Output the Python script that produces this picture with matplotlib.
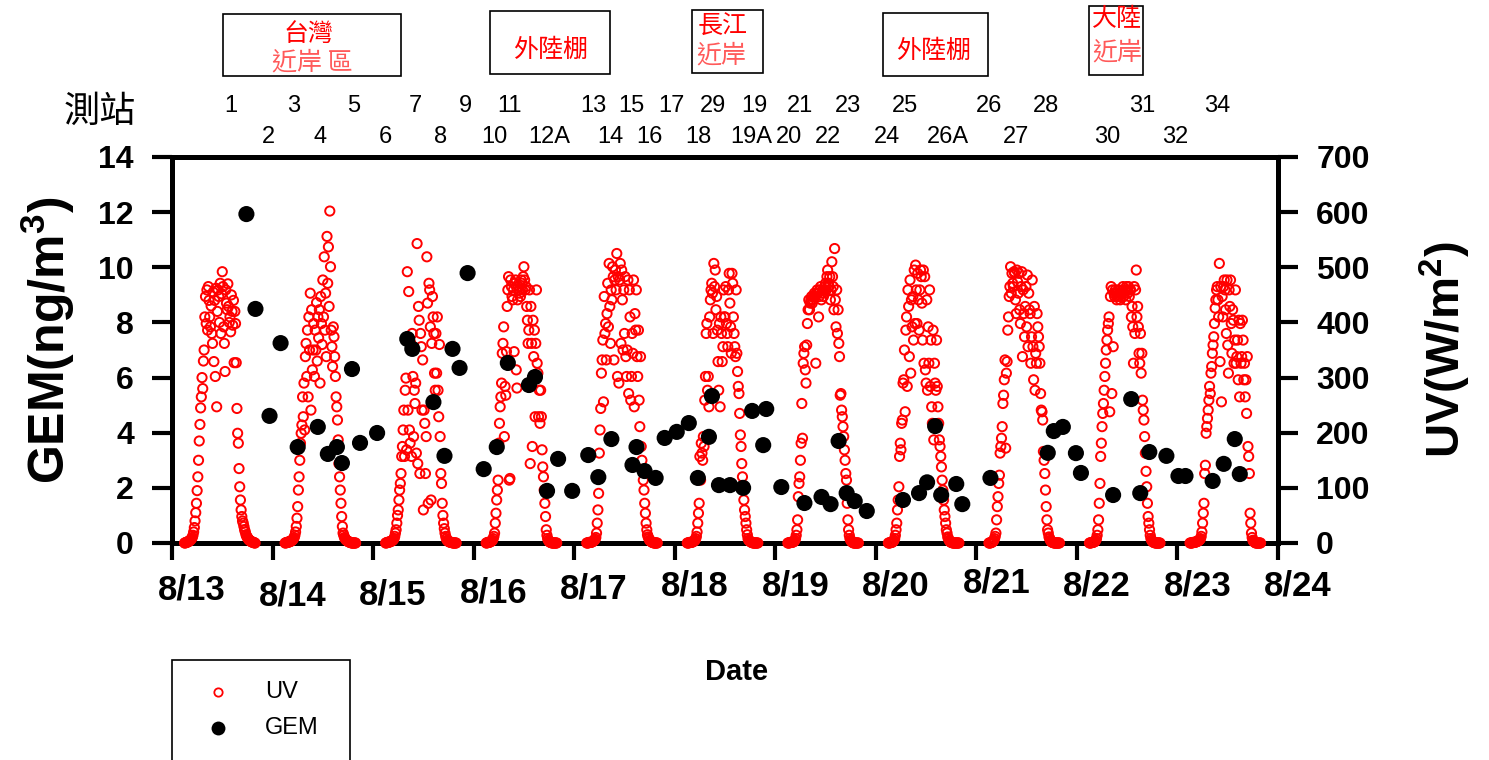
import numpy as np
import matplotlib
matplotlib.use('Agg')
import matplotlib.pyplot as plt
from matplotlib.patches import Rectangle
from matplotlib.lines import Line2D
from matplotlib.transforms import ScaledTranslation, blended_transform_factory

plt.rcParams['font.family'] = ['Liberation Sans', 'DejaVu Sans']
plt.rcParams['mathtext.fontset'] = 'custom'
plt.rcParams['mathtext.rm'] = 'Liberation Sans'
plt.rcParams['mathtext.bf'] = 'Liberation Sans:bold'
CJK = ['Noto Sans CJK TC', 'DejaVu Sans']

dates = ['8/13', '8/14', '8/15', '8/16', '8/17', '8/18',
         '8/19', '8/20', '8/21', '8/22', '8/23', '8/24']

# UV (W/m2), 10-min readings from 03:00 to 19:50, one row per hour
uv_0813 = [0, 0, 1, 1, 2, 2, 3, 4, 5, 6, 8, 10, 14, 20, 28, 40, 55, 72,
           95, 120, 150, 185, 215, 245, 265, 300, 280, 330, 350, 410,
           447, 398, 459, 386, 465, 440, 410, 392, 430, 380, 362, 455,
           329, 440, 302, 462, 247, 420, 459, 447, 400, 471, 380, 452,
           492, 465, 392, 362, 311, 459, 435, 423, 470, 429, 400, 410,
           383, 450, 420, 395, 440, 327, 420, 398, 327, 244, 199, 181,
           135, 102, 78, 60, 48, 40, 36, 30, 24, 20, 15, 12,
           10, 8, 6, 5, 4, 3, 2, 2, 1, 1, 0, 0]
uv_0814 = [0, 0, 1, 1, 1, 2, 2, 3, 3, 4, 5, 6, 8, 10, 14, 20, 30, 45,
           66, 96, 120, 150, 181, 199, 214, 265, 229, 290, 205, 338,
           362, 302, 386, 265, 410, 350, 453, 241, 423, 314, 350, 398,
           302, 386, 350, 436, 330, 410, 372, 423, 290, 447, 398, 360,
           477, 410, 519, 386, 453, 338, 556, 471, 537, 429, 602, 501,
           386, 356, 320, 392, 374, 338, 302, 265, 247, 223, 187, 144,
           120, 96, 72, 48, 30, 18, 14, 10, 8, 6, 5, 4,
           3, 2, 2, 1, 1, 0, 0, 0, 0, 0, 0, 0]
uv_0815 = [0, 0, 1, 1, 1, 2, 2, 3, 3, 4, 5, 6, 8, 12, 18, 24, 36, 50,
           60, 78, 96, 108, 126, 157, 175, 205, 241, 157, 277, 299,
           169, 492, 241, 456, 205, 181, 362, 157, 380, 302, 193, 277,
           253, 290, 163, 543, 144, 429, 404, 126, 380, 356, 241, 332,
           60, 241, 217, 126, 193, 519, 435, 72, 471, 459, 392, 78,
           362, 447, 410, 380, 308, 277, 380, 308, 410, 277, 229, 360,
           193, 126, 108, 72, 50, 36, 26, 18, 12, 8, 5, 4,
           3, 2, 2, 1, 1, 1, 0, 0, 0, 0, 0, 0]
uv_0816 = [0, 0, 1, 1, 1, 2, 2, 3, 4, 5, 8, 12, 18, 36, 54, 78, 96, 114,
           181, 217, 247, 265, 290, 344, 362, 392, 193, 284, 268, 347,
           429, 459, 483, 114, 117, 477, 465, 447, 441, 459, 347, 471,
           477, 314, 281, 441, 465, 459, 453, 447, 477, 471, 459, 483,
           501, 477, 459, 465, 429, 404, 362, 386, 459, 144, 429, 362,
           175, 404, 338, 386, 229, 362, 459, 326, 308, 229, 277, 217,
           277, 229, 169, 138, 120, 96, 72, 48, 24, 14, 8, 5,
           3, 2, 1, 1, 0, 0, 0, 0, 0, 0, 0, 0]
uv_0817 = [0, 0, 0, 1, 1, 1, 1, 2, 2, 3, 4, 5, 7, 10, 18, 36, 60, 90,
           163, 205, 244, 308, 332, 368, 256, 447, 380, 398, 332, 416,
           471, 392, 507, 429, 362, 459, 441, 501, 483, 332, 477, 495,
           459, 525, 302, 483, 290, 477, 507, 362, 495, 441, 350, 459,
           380, 483, 338, 302, 350, 477, 271, 459, 410, 259, 302, 380,
           344, 477, 247, 416, 386, 459, 338, 302, 386, 259, 211, 338,
           175, 150, 132, 114, 96, 72, 54, 36, 24, 15, 11, 8,
           5, 4, 3, 2, 1, 1, 0, 0, 0, 0, 0, 0]
uv_0818 = [0, 0, 0, 1, 1, 1, 1, 2, 2, 3, 4, 5, 8, 12, 20, 36, 54, 72,
           157, 114, 181, 163, 150, 193, 175, 259, 302, 380, 398, 277,
           302, 247, 410, 441, 459, 471, 453, 380, 507, 465, 495, 423,
           447, 386, 329, 277, 398, 247, 410, 380, 329, 356, 459, 410,
           410, 465, 398, 380, 356, 459, 489, 435, 392, 344, 489, 471,
           410, 380, 356, 338, 459, 344, 311, 284, 271, 235, 196, 175,
           144, 120, 102, 78, 60, 48, 36, 24, 15, 8, 5, 4,
           3, 2, 1, 1, 0, 0, 0, 0, 0, 0, 0, 0]
uv_0819 = [0, 0, 0, 1, 1, 1, 1, 2, 2, 3, 5, 8, 14, 24, 42, 84, 108, 120,
           150, 181, 253, 190, 326, 344, 356, 314, 290, 359, 398, 423,
           441, 423, 435, 441, 447, 435, 441, 447, 453, 447, 326, 453,
           459, 453, 410, 447, 459, 465, 441, 453, 459, 447, 459, 465,
           471, 459, 483, 495, 471, 465, 483, 441, 459, 510, 483, 465,
           423, 534, 441, 392, 459, 380, 423, 362, 338, 268, 271, 241,
           229, 211, 193, 169, 150, 126, 114, 72, 42, 24, 14, 8,
           5, 3, 2, 1, 0, 0, 0, 0, 0, 0, 0, 0]
uv_0820 = [0, 0, 0, 1, 1, 1, 2, 3, 5, 8, 14, 24, 36, 60, 78, 102, 157, 181,
           169, 217, 223, 290, 296, 350, 238, 386, 410, 284, 459, 429,
           338, 477, 308, 441, 392, 447, 368, 495, 398, 504, 459, 398,
           489, 441, 386, 459, 495, 483, 435, 368, 495, 326, 483, 314,
           290, 441, 277, 392, 326, 459, 284, 368, 247, 217, 386, 187,
           326, 290, 277, 368, 284, 247, 217, 187, 175, 157, 138, 114,
           96, 78, 60, 48, 36, 24, 18, 11, 8, 5, 3, 2,
           1, 1, 0, 0, 0, 0, 0, 0, 0, 0, 0, 0]
uv_0821 = [0, 0, 0, 1, 1, 2, 3, 5, 8, 12, 18, 42, 66, 84, 108, 123, 163, 175,
           190, 211, 253, 268, 296, 332, 172, 308, 329, 386, 410, 447,
           465, 501, 453, 489, 471, 465, 492, 489, 441, 416, 495, 474,
           453, 489, 423, 398, 465, 492, 338, 459, 416, 374, 429, 465,
           392, 486, 356, 453, 423, 416, 326, 374, 477, 356, 296, 429,
           277, 344, 326, 416, 392, 374, 356, 326, 271, 241, 238, 223,
           166, 150, 126, 96, 66, 42, 24, 18, 11, 8, 5, 3,
           2, 1, 1, 0, 0, 0, 0, 0, 0, 0, 0, 0]
uv_0822 = [0, 0, 0, 1, 1, 1, 2, 2, 3, 5, 8, 14, 24, 42, 72, 108, 157, 181,
           211, 235, 253, 277, 302, 326, 350, 368, 386, 398, 410, 238,
           447, 465, 271, 459, 356, 453, 447, 459, 453, 441, 447, 459,
           447, 453, 441, 447, 453, 459, 465, 447, 453, 459, 441, 465,
           459, 453, 465, 447, 459, 459, 410, 429, 392, 326, 465, 380,
           459, 495, 410, 429, 392, 344, 326, 380, 308, 344, 259, 241,
           223, 193, 163, 130, 102, 72, 48, 36, 24, 14, 8, 5,
           3, 2, 1, 1, 0, 0, 0, 0, 0, 0, 0, 0]
uv_0823 = [0, 0, 0, 0, 1, 1, 1, 1, 2, 2, 3, 3, 4, 5, 6, 8, 12, 20,
           36, 54, 72, 126, 141, 199, 211, 226, 241, 259, 284, 271,
           308, 320, 344, 359, 374, 398, 426, 441, 459, 465, 441, 410,
           507, 329, 465, 256, 447, 410, 465, 477, 459, 423, 380, 477,
           359, 308, 459, 429, 477, 398, 344, 423, 404, 326, 368, 459,
           326, 338, 368, 296, 404, 265, 398, 326, 338, 404, 368, 296,
           326, 265, 296, 235, 338, 175, 157, 126, 54, 36, 18, 10,
           5, 3, 2, 1, 0, 0, 0, 0, 0, 0, 0, 0]
uv_days = [uv_0813, uv_0814, uv_0815, uv_0816, uv_0817, uv_0818,
           uv_0819, uv_0820, uv_0821, uv_0822, uv_0823]

# GEM (ng/m3) samples, time in days after 8/13 00:00
gem_day = [0.74, 0.83, 0.97, 1.08, 1.25, 1.45, 1.55, 1.64, 1.69, 1.79,
           1.87, 2.04, 2.34, 2.39, 2.60, 2.71, 2.79, 2.86, 2.94, 3.10,
           3.23, 3.34, 3.55, 3.61, 3.73, 3.84, 3.98, 4.14, 4.24, 4.37,
           4.58, 4.62, 4.70, 4.81, 4.90, 5.02, 5.14, 5.23, 5.34, 5.37,
           5.44, 5.55, 5.68, 5.77, 5.88, 5.91, 6.06, 6.29, 6.46, 6.55,
           6.63, 6.71, 6.79, 6.91, 7.27, 7.43, 7.51, 7.59, 7.65, 7.80,
           7.86, 8.14, 8.71, 8.77, 8.86, 8.99, 9.04, 9.36, 9.54, 9.63,
           9.72, 9.89, 10.01, 10.08, 10.35, 10.46, 10.57, 10.62]
gem = [11.93, 8.49, 4.61, 7.25, 3.48, 4.21, 3.23, 3.48, 2.90, 6.31,
       3.63, 3.99, 7.40, 7.04, 5.11, 3.16, 7.04, 6.35, 9.79, 2.68,
       3.48, 6.53, 5.73, 6.02, 1.89, 3.05, 1.89, 3.19, 2.39, 3.77,
       2.83, 3.48, 2.61, 2.36, 3.81, 4.03, 4.35, 2.36, 3.85, 5.33,
       2.10, 2.10, 2.00, 4.79, 3.55, 4.86, 2.03, 1.45, 1.67, 1.41,
       3.70, 1.81, 1.52, 1.16, 1.56, 1.81, 2.20, 4.24, 1.74, 2.14,
       1.41, 2.36, 3.27, 4.06, 4.21, 3.26, 2.54, 1.74, 5.22, 1.81,
       3.30, 3.16, 2.43, 2.43, 2.25, 2.87, 3.77, 2.50]

# sampling stations along the cruise track
stations_top = ['1', '3', '5', '7', '9', '11', '13', '15', '17', '29',
                '19', '21', '23', '25', '26', '28', '31', '34']
stations_top_day = [0.58, 1.21, 1.81, 2.42, 2.92, 3.36, 4.19, 4.57, 4.97,
                    5.38, 5.79, 6.25, 6.72, 7.29, 8.13, 8.69, 9.65, 10.40]
stations_bot = ['2', '4', '6', '8', '10', '12A', '14', '16', '18', '19A',
                '20', '22', '24', '26A', '27', '30', '32']
stations_bot_day = [0.96, 1.47, 2.12, 2.67, 3.21, 3.75, 4.36, 4.75, 5.24,
                    5.76, 6.14, 6.52, 7.11, 7.72, 8.39, 9.30, 9.98]

W, H = 1489, 760
fig = plt.figure(figsize=(W / 100, H / 100), dpi=100)


def fx(px):
    return px / W


def fy(py):
    return 1 - py / H


ax = fig.add_axes([fx(172), fy(543), (1278 - 172) / W, (543 - 157) / H])
axg = ax.twinx()
ax.yaxis.tick_right()
axg.yaxis.tick_left()

for d, vals in enumerate(uv_days):
    t = d + (3 + np.arange(len(vals)) / 6) / 24
    ax.scatter(t, vals, s=44, facecolors='none', edgecolors='red',
               linewidths=1.4, zorder=3, clip_on=False)

axg.scatter(gem_day, gem, s=135, c='black', edgecolors='none',
            zorder=3, clip_on=False)

ax.set_xlim(0, 11)
ax.set_ylim(0, 700)
axg.set_ylim(0, 14)
ax.set_xticks(np.arange(12))
ax.set_xticklabels(dates)
ax.set_yticks(np.arange(0, 701, 100))
axg.set_yticks(np.arange(0, 15, 2))

for s in ax.spines.values():
    s.set_linewidth(3.6)
for s in axg.spines.values():
    s.set_visible(False)

ax.tick_params(axis='x', direction='out', length=12, width=3,
               labelsize=25, pad=7)
ax.tick_params(axis='y', direction='out', length=14.5, width=3,
               labelsize=23, pad=13, left=False, right=True,
               labelleft=False, labelright=True)
axg.tick_params(axis='y', direction='out', length=14.5, width=3,
                labelsize=23, pad=13, left=True, right=False,
                labelleft=True, labelright=False)

x_label_dy = [4, 10, 9, 7, 3, 0, 0, 0, -3, 0, 0, 0]
for lbl, dy in zip(ax.get_xticklabels(), x_label_dy):
    lbl.set_fontweight('bold')
    lbl.set_transform(lbl.get_transform() +
                      ScaledTranslation(0.2, -dy / 100, fig.dpi_scale_trans))
for lbl in ax.get_yticklabels() + axg.get_yticklabels():
    lbl.set_fontweight('bold')

fig.text(fx(48), fy(340), r'GEM(ng/m$^{\mathbf{3}}$)', rotation=90,
         fontsize=36, fontweight='bold', ha='center', va='center')
fig.text(fx(1445), fy(350), r'UV(W/m$^{\mathbf{2}}$)', rotation=90,
         fontsize=34, fontweight='bold', ha='center', va='center')
fig.text(fx(737), fy(672), 'Date', fontsize=21, fontweight='bold',
         ha='center', va='center')

# station numbers above the plot
st = blended_transform_factory(ax.transData, fig.transFigure)
for name, d in zip(stations_top, stations_top_day):
    fig.text(d, fy(106), name, transform=st, fontsize=17,
             ha='center', va='center')
for name, d in zip(stations_bot, stations_bot_day):
    fig.text(d, fy(137), name, transform=st, fontsize=17,
             ha='center', va='center')
fig.text(fx(100), fy(112), '測站', family=CJK, fontsize=26,
         ha='center', va='center')

# region boxes
regions = [
    ((223, 14, 401, 76), [('台灣', 308, 34, 'red'), ('近岸 區', 312, 62, '#ff5a5a')]),
    ((490, 11, 610, 74), [('外陸棚', 551, 50, 'red')]),
    ((692, 10, 763, 73), [('長江', 723, 27, 'red'), ('近岸', 721, 55, '#ff5a5a')]),
    ((883, 13, 988, 76), [('外陸棚', 934, 51, 'red')]),
    ((1089, 6, 1143, 75), [('大陸', 1117, 19, 'red'), ('近岸', 1117, 52, '#ff5a5a')]),
]
for (x0, y0, x1, y1), texts in regions:
    fig.add_artist(Rectangle((fx(x0), fy(y1)), (x1 - x0) / W, (y1 - y0) / H,
                             transform=fig.transFigure, fill=False,
                             edgecolor='black', linewidth=1.2))
    for txt, tx, ty, col in texts:
        fig.text(fx(tx), fy(ty), txt, family=CJK, fontsize=18, color=col,
                 ha='center', va='center')

# legend
fig.add_artist(Rectangle((fx(172), fy(775)), (350 - 172) / W, (775 - 660) / H,
                         transform=fig.transFigure, fill=False,
                         edgecolor='black', linewidth=1.2, clip_on=False))
fig.add_artist(Line2D([fx(218)], [fy(692)], transform=fig.transFigure,
                      linestyle='none', marker='o', markersize=6,
                      markerfacecolor='none', markeredgecolor='red',
                      markeredgewidth=1.3))
fig.add_artist(Line2D([fx(218)], [fy(728)], transform=fig.transFigure,
                      linestyle='none', marker='o', markersize=10,
                      markerfacecolor='black', markeredgecolor='none'))
fig.text(fx(265), fy(692), 'UV', fontsize=17, ha='left', va='center')
fig.text(fx(265), fy(728), 'GEM', fontsize=17, ha='left', va='center')

fig.savefig('out.png', dpi=100)
